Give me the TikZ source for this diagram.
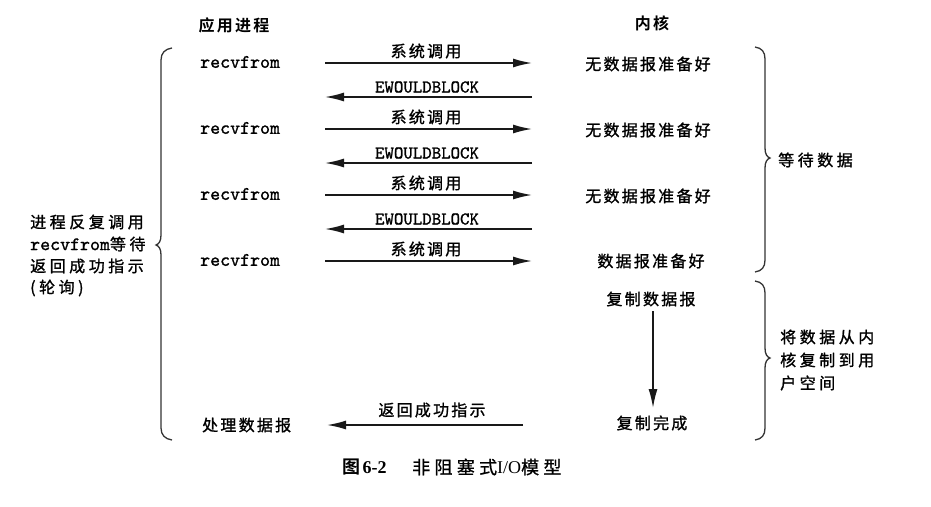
\documentclass[tikz,border=0pt]{standalone}
\usepackage{fontspec}
\setmainfont{Liberation Serif}
\setmonofont{Liberation Mono}
\newfontfamily\lmtt{lmmono10-regular}[Extension=.otf, FakeBold=1.2]
\newfontfamily\cjk{Noto Sans CJK SC}[LetterSpace=14, FakeBold=1.2]
\newfontfamily\cjkh{Noto Sans CJK SC Bold}[LetterSpace=14]
\newfontfamily\cjkw{Noto Sans CJK SC}[LetterSpace=22, FakeBold=1.2]
\newfontfamily\cjkc{Noto Sans CJK SC}[LetterSpace=24, FakeBold=1.0]
\usetikzlibrary{arrows.meta}
\tikzset{
  cn/.style={font=\cjk\fontsize{16}{20}\selectfont, inner sep=0pt},
  cnw/.style={font=\cjkw\fontsize{16}{20}\selectfont, inner sep=0pt, anchor=west},
  hd/.style={font=\cjkh\fontsize{16}{20}\selectfont, inner sep=0pt},
  mono/.style={font=\lmtt\fontsize{19}{22}\selectfont, inner sep=0pt},
  ewb/.style={font=\lmtt\fontsize{18}{20}\selectfont, inner sep=0pt},
  call/.style={-{Latex[length=19pt,width=9pt]}, line width=1.6pt, draw=black!90},
  bracepath/.style={line width=1.3pt, draw=black!80},
}
\begin{document}
\begin{tikzpicture}[x=1pt,y=-1pt]
\useasboundingbox (0,0) rectangle (931,506);
\fill[white] (0,0) rectangle (931,506);

% headings
\node[hd] (hApp) at (234,25) {应用进程};
\node[hd] (hKer) at (652,23) {内核};

% application side
\foreach \i/\y in {1/62,2/128,3/194,4/260}{
  \node[mono, anchor=west] (rf\i) at (200,\y) {recvfrom};
}
\node[cn, anchor=west] (proc) at (202,425) {处理数据报};

% system calls
\foreach \i/\y in {1/63,2/129,3/195,4/261}{
  \coordinate (ca\i) at (325,\y);
  \coordinate (cb\i) at (532,\y);
  \draw[call] (ca\i) -- (cb\i);
  \node[cn] (sys\i) at (426,\y-12) {系统调用};
}
% EWOULDBLOCK returns
\foreach \i/\y in {1/97,2/163,3/229}{
  \coordinate (ra\i) at (325,\y);
  \coordinate (rb\i) at (532,\y);
  \draw[call] (rb\i) -- (ra\i);
  \node[ewb] (ew\i) at (427,\y-10) {EWOULDBLOCK};
}

% kernel side
\node[cn] (k1) at (648,64) {无数据报准备好};
\node[cn] (k2) at (648,130) {无数据报准备好};
\node[cn] (k3) at (648,196) {无数据报准备好};
\node[cn] (k4) at (651,261) {数据报准备好};
\node[cn] (copy) at (651,299) {复制数据报};
\node[cn] (done) at (652,423) {复制完成};
\coordinate (va) at (653,311);
\coordinate (vb) at (653,408);
\draw[call] (va) -- (vb);

% return success
\coordinate (oa) at (523,425);
\coordinate (ob) at (327,425);
\draw[call] (oa) -- (ob);
\node[cn] (ok) at (432,410) {返回成功指示};

% left brace
\draw[bracepath] (172,48) .. controls (165,49) and (161,53) .. (161,60) -- (161,235)
  .. controls (161,241) and (159,244) .. (156,245)
  .. controls (159,246) and (161,249) .. (161,255) -- (161,428)
  .. controls (161,435) and (165,439) .. (172,440);
\node[cnw] (l1) at (30,222) {进程反复调用};
\node[cnw] (l2) at (30,244) {{\lmtt\fontsize{19}{22}\selectfont recvfrom}等待};
\node[cnw] (l3) at (30,266) {返回成功指示};
\node[cnw] (l4) at (30,288) {(轮询)};

% right braces
\draw[bracepath] (755,47) .. controls (762,48) and (765,52) .. (765,59) -- (765,148)
  .. controls (765,154) and (767,157) .. (770,158)
  .. controls (767,159) and (765,162) .. (765,168) -- (765,260)
  .. controls (765,267) and (762,271) .. (755,272);
\node[cnw] (w1) at (778,160) {等待数据};

\draw[bracepath] (755,281) .. controls (762,282) and (765,286) .. (765,293) -- (765,348)
  .. controls (765,354) and (767,357) .. (770,358)
  .. controls (767,359) and (765,362) .. (765,368) -- (765,428)
  .. controls (765,435) and (762,439) .. (755,440);
\node[cnw] (c1) at (780,337) {将数据从内};
\node[cnw] (c2) at (780,360) {核复制到用};
\node[cnw] (c3) at (780,383) {户空间};

% caption
\node[inner sep=0pt, anchor=west, font=\fontsize{18}{20}\selectfont] (capnum) at (342,467) {{\cjkh 图}\textbf{6-2}};
\node[inner sep=0pt, anchor=west, font=\fontsize{18}{20}\selectfont] (captxt) at (412,467) {{\cjkc 非阻塞式}I/O{\cjkc 模型}};
\end{tikzpicture}
\end{document}
